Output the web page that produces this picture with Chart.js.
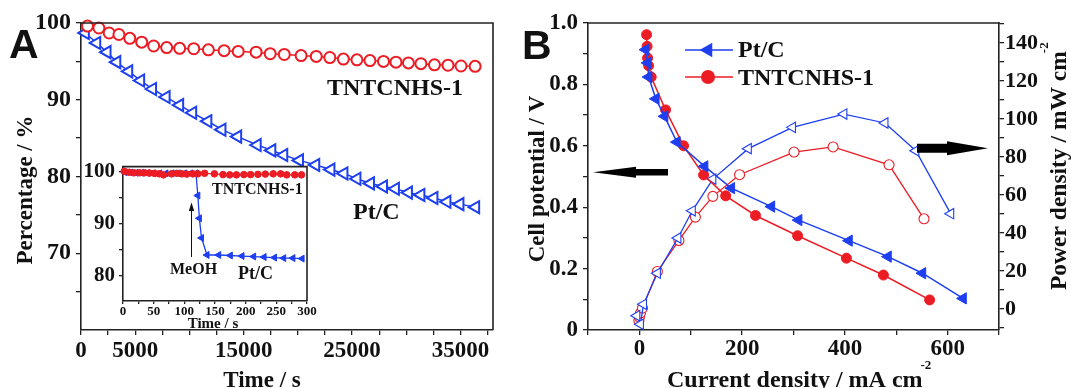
<!DOCTYPE html>
<html>
<head>
<meta charset="utf-8">
<title>Methanol tolerance and single cell polarization</title>
<script src="https://cdn.jsdelivr.net/npm/chart.js@4.4.1/dist/chart.umd.min.js"></script>
<style>
  html, body { margin: 0; padding: 0; background: #fff; }
  #fig { position: relative; width: 1071px; height: 388px; overflow: hidden; background: #fff; }
  #fig canvas { position: absolute; }
</style>
</head>
<body>
<div id="fig">
  <canvas id="chartA" width="515" height="388" style="left:0;top:0"></canvas>
  <canvas id="chartInset" width="262" height="185" style="left:60px;top:150px"></canvas>
  <canvas id="chartB" width="556" height="388" style="left:515px;top:0"></canvas>
</div>
<script>
Chart.defaults.font.family = '"Liberation Serif", "Times New Roman", serif';
Chart.defaults.animation = false;

const RED = '#ec1c24';
const BLUE = '#1d3fef';
const INK = '#111111';
const AXIS = '#222222';
const SERIF = '"Liberation Serif", "Times New Roman", serif';
const SANS = '"Liberation Sans", Arial, sans-serif';

// ---- Panel A: chronoamperometric retention (%) vs time (s)
const tntTimeS = [600, 1650, 2600, 3500, 4500, 5600, 6700, 7900, 9100, 10400, 11750, 13200, 14500, 16150, 17450,
  18750, 20300, 21700, 22950, 24200, 25450, 26650, 27900, 29050, 30200, 31350, 32600, 33850, 35050, 36350];
const tntRetention = [99.6, 99.35, 98.7, 98.5, 98.0, 97.5, 97.0, 96.8, 96.7, 96.65, 96.5, 96.4, 96.3, 96.2, 96.0,
  95.9, 95.75, 95.65, 95.5, 95.3, 95.2, 95.1, 95.0, 94.9, 94.8, 94.7, 94.55, 94.5, 94.4, 94.35];
const ptcTimeS = [400, 1450, 2400, 3300, 4400, 5500, 6600, 7850, 9100, 10300, 11700, 13000, 14450, 16250, 17600,
  18700, 20150, 21650, 23050, 24250, 25450, 26700, 27900, 29000, 30200, 31350, 32550, 33750, 34950, 36400];
const ptcRetention = [98.7, 97.4, 96.2, 94.9, 93.7, 92.5, 91.4, 90.35, 89.3, 88.3, 87.2, 86.1, 85.2, 84.1, 83.4,
  82.8, 82.1, 81.5, 80.9, 80.4, 79.7, 79.1, 78.7, 78.4, 77.9, 77.6, 77.2, 76.7, 76.4, 76.0];
const timeTicksA = [0, 2500, 5000, 7500, 10000, 12500, 15000, 17500, 20000, 22500, 25000, 27500, 30000, 32500, 35000, 37500];
const timeLabelsA = [0, 5000, 15000, 25000, 35000];
const pctTicksA = [65, 70, 75, 80, 85, 90, 95, 100];
const pctLabelsA = [70, 80, 90, 100];

// ---- Inset: methanol injection at ~120 s
const inTntTime = [2, 10, 18, 27, 35, 43, 51, 59, 66, 79, 88, 96, 104, 114, 122, 133, 149, 163, 174, 185, 197, 208,
  220, 232, 245, 257, 267, 280, 291];
const inTntPct = [100.1, 99.9, 99.8, 99.8, 99.8, 99.75, 99.7, 99.6, 99.4, 99.6, 99.7, 99.6, 99.55, 99.6, 99.6, 99.7,
  99.6, 99.45, 99.4, 99.4, 99.45, 99.45, 99.5, 99.55, 99.6, 99.6, 99.4, 99.4, 99.4];
const inPtcTime = [3, 12, 21, 30, 40, 50, 60, 70, 80, 90, 100, 110, 119, 122, 124.5, 128, 137, 156, 175, 194, 213,
  230, 247, 262, 277, 292];
const inPtcPct = [99.9, 99.85, 99.8, 99.8, 99.75, 99.7, 99.7, 99.7, 99.7, 99.7, 99.7, 99.7, 99.7, 95.4, 91.0, 87.2,
  83.9, 83.9, 83.8, 83.7, 83.6, 83.5, 83.4, 83.3, 83.3, 83.2];
const inTimeTicks = [0, 25, 50, 75, 100, 125, 150, 175, 200, 225, 250, 275, 300];
const inTimeLabels = [0, 50, 100, 150, 200, 250, 300];
const inPctTicks = [80, 85, 90, 95, 100];
const inPctLabels = [80, 90, 100];

// ---- Panel B: polarization (V) and power density (mW cm-2) vs current density (mA cm-2)
const ptcCurrent = [12, 16, 18, 32, 49, 73, 127, 179, 257, 310, 408, 484, 551, 630];
const ptcVoltage = [0.913, 0.870, 0.824, 0.753, 0.696, 0.612, 0.533, 0.462, 0.402, 0.358, 0.291, 0.239, 0.185, 0.103];
const tntCurrent = [14, 15, 16, 18, 23, 51, 86, 125, 168, 226, 308, 403, 475, 565];
const tntVoltage = [0.962, 0.924, 0.886, 0.861, 0.824, 0.717, 0.600, 0.505, 0.437, 0.373, 0.307, 0.234, 0.179, 0.098];
const ptcPowerCurrent = [-5, 2, 8, 35, 75, 103, 143, 212, 298, 398, 478, 538, 606];
const ptcPower = [-3.5, -8, 2.5, 18.9, 37.4, 51.7, 68.4, 84.4, 95.6, 102.6, 97.9, 83.3, 50.2];
const tntPowerCurrent = [-1, 0, 2, 6, 35, 77, 109, 143, 195, 301, 377, 486, 554];
const tntPower = [-6, -4.2, -2.1, 0.5, 19.8, 36.1, 48.4, 59.3, 70.7, 82.6, 85.3, 75.9, 47.5];
const currentTicks = [-100, 0, 100, 200, 300, 400, 500, 600, 700];
const currentLabels = [0, 200, 400, 600];
const voltTicks = [0, 0.1, 0.2, 0.3, 0.4, 0.5, 0.6, 0.7, 0.8, 0.9, 1.0];
const voltLabels = [0, 0.2, 0.4, 0.6, 0.8, 1.0];
const powerTicks = [-10, 0, 10, 20, 30, 40, 50, 60, 70, 80, 90, 100, 110, 120, 130, 140, 150];
const powerLabels = [0, 20, 40, 60, 80, 100, 120, 140];

function points(xs, ys) {
  return xs.map((x, i) => ({ x: x, y: ys[i] }));
}

// linear axis with a fixed box size and hand-picked ticks
function axis(o) {
  return {
    type: 'linear',
    position: o.position,
    min: o.min,
    max: o.max,
    afterBuildTicks: s => { s.ticks = o.ticks.map(v => ({ value: v })); },
    afterFit: s => {
      if (s.isHorizontal()) s.height = o.size;
      else s.width = o.size;
    },
    border: { display: true, color: AXIS, width: 1.6 },
    grid: { drawOnChartArea: false, drawTicks: true, tickLength: o.tickLength || 5, color: AXIS, lineWidth: 1.3 },
    ticks: {
      autoSkip: false, maxRotation: 0, minRotation: 0,
      padding: o.padding, color: INK,
      font: { family: SERIF, weight: 'bold', size: o.fontSize },
      callback: v => (o.labels.includes(v) ? (o.format ? o.format(v) : String(v)) : '')
    }
  };
}

function text(ctx, str, x, y, font, align, rotate) {
  ctx.save();
  ctx.font = font;
  ctx.fillStyle = INK;
  ctx.textAlign = align || 'left';
  ctx.textBaseline = 'alphabetic';
  ctx.translate(x, y);
  if (rotate) ctx.rotate(-Math.PI / 2);
  ctx.fillText(str, 0, 0);
  ctx.restore();
}

function textWithSup(ctx, main, sup, x, y, size, supSize, rotate) {
  ctx.save();
  ctx.translate(x, y);
  if (rotate) ctx.rotate(-Math.PI / 2);
  ctx.fillStyle = INK;
  ctx.textBaseline = 'alphabetic';
  ctx.font = 'bold ' + size + 'px ' + SERIF;
  const w = ctx.measureText(main).width;
  ctx.fillText(main, 0, 0);
  ctx.font = 'bold ' + supSize + 'px ' + SERIF;
  ctx.fillText(sup, w - 2, -size * 0.75);
  ctx.restore();
}

function polygon(ctx, pts) {
  ctx.beginPath();
  ctx.moveTo(pts[0][0], pts[0][1]);
  for (let i = 1; i < pts.length; i++) ctx.lineTo(pts[i][0], pts[i][1]);
  ctx.closePath();
  ctx.fill();
}

// top / right box lines around the plot area
function drawFrame(chart, sides) {
  const ctx = chart.ctx, a = chart.chartArea;
  ctx.save();
  ctx.strokeStyle = AXIS;
  ctx.lineWidth = 1.6;
  ctx.beginPath();
  if (sides.includes('top')) { ctx.moveTo(a.left - 0.8, a.top); ctx.lineTo(a.right + 0.8, a.top); }
  if (sides.includes('right')) { ctx.moveTo(a.right, a.top); ctx.lineTo(a.right, a.bottom); }
  ctx.stroke();
  ctx.restore();
}

const baseOptions = {
  responsive: false,
  animation: false,
  events: [],
  plugins: { legend: { display: false }, tooltip: { enabled: false } }
};

// ---------------- Panel A ----------------
new Chart(document.getElementById('chartA'), {
  type: 'scatter',
  data: {
    datasets: [
      {
        label: 'TNTCNHS-1', data: points(tntTimeS, tntRetention), showLine: true, clip: false,
        borderColor: RED, borderWidth: 1.5, pointStyle: 'circle', pointRadius: 5.5,
        pointBorderWidth: 2, pointBorderColor: RED, pointBackgroundColor: '#ffffff'
      },
      {
        label: 'Pt/C', data: points(ptcTimeS, ptcRetention), showLine: true, clip: false,
        borderColor: BLUE, borderWidth: 1.5, pointStyle: 'triangle', pointRotation: -90, pointRadius: 7,
        pointBorderWidth: 2, pointBorderColor: BLUE, pointBackgroundColor: '#ffffff'
      }
    ]
  },
  options: Object.assign({}, baseOptions, {
    layout: { padding: { top: 23, right: 22, left: 0, bottom: 0 } },
    scales: {
      x: axis({ position: 'bottom', min: 0, max: 38000, ticks: timeTicksA, labels: timeLabelsA,
        size: 58, padding: 2, fontSize: 23 }),
      y: axis({ position: 'left', min: 60, max: 100, ticks: pctTicksA, labels: pctLabelsA,
        size: 81, padding: 5, fontSize: 24 })
    }
  }),
  plugins: [{
    id: 'annotA',
    afterDraw(chart) {
      const ctx = chart.ctx;
      drawFrame(chart, ['top', 'right']);
      text(ctx, 'A', 9, 58, 'bold 41px ' + SANS);
      text(ctx, 'Percentage / %', 31.5, 190, 'bold 23px ' + SERIF, 'center', true);
      text(ctx, 'Time / s', 262, 387, 'bold 23px ' + SERIF, 'center');
      text(ctx, 'TNTCNHS-1', 327, 95, 'bold 24px ' + SERIF);
      text(ctx, 'Pt/C', 353, 219, 'bold 24px ' + SERIF);
    }
  }]
});

// ---------------- Inset (page offset 60,150) ----------------
new Chart(document.getElementById('chartInset'), {
  type: 'scatter',
  data: {
    datasets: [
      {
        label: 'TNTCNHS-1', data: points(inTntTime, inTntPct), showLine: true, clip: false,
        borderColor: RED, borderWidth: 1.2, pointStyle: 'circle', pointRadius: 3.3,
        pointBorderWidth: 1, pointBorderColor: RED, pointBackgroundColor: RED
      },
      {
        label: 'Pt/C', data: points(inPtcTime, inPtcPct), showLine: true, clip: false,
        borderColor: BLUE, borderWidth: 1.3, pointStyle: 'triangle', pointRotation: -90, pointRadius: 4,
        pointBorderWidth: 1, pointBorderColor: BLUE, pointBackgroundColor: BLUE
      }
    ]
  },
  options: Object.assign({}, baseOptions, {
    layout: { padding: { top: 13, right: 15, left: 0, bottom: 0 } },
    scales: {
      x: axis({ position: 'bottom', min: 0, max: 300, ticks: inTimeTicks, labels: inTimeLabels,
        size: 34, padding: 0, tickLength: 3, fontSize: 13 }),
      y: axis({ position: 'left', min: 75, max: 101, ticks: inPctTicks, labels: inPctLabels,
        size: 63, padding: 4, tickLength: 4, fontSize: 21 })
    }
  }),
  plugins: [{
    id: 'annotInset',
    beforeDraw(chart) {
      const a = chart.chartArea;
      chart.ctx.save();
      chart.ctx.fillStyle = '#ffffff';
      chart.ctx.fillRect(a.left, a.top, a.right - a.left, a.bottom - a.top);
      chart.ctx.restore();
    },
    afterDraw(chart) {
      const ctx = chart.ctx;
      drawFrame(chart, ['top', 'right']);
      text(ctx, 'TNTCNHS-1', 212 - 60, 194 - 150, 'bold 16px ' + SERIF);
      text(ctx, 'MeOH', 170 - 60, 274 - 150, 'bold 16px ' + SERIF);
      text(ctx, 'Pt/C', 238 - 60, 279 - 150, 'bold 18px ' + SERIF);
      text(ctx, 'Time / s', 213 - 60, 328 - 150, 'bold 15px ' + SERIF, 'center');
      // MeOH injection arrow
      ctx.save();
      ctx.strokeStyle = INK;
      ctx.fillStyle = INK;
      ctx.lineWidth = 1;
      ctx.beginPath();
      ctx.moveTo(191.5 - 60, 257 - 150);
      ctx.lineTo(191.5 - 60, 209 - 150);
      ctx.stroke();
      polygon(ctx, [[191.5 - 60, 202.5 - 150], [188.8 - 60, 211 - 150], [194.2 - 60, 211 - 150]]);
      ctx.restore();
    }
  }]
});

// ---------------- Panel B (page offset 515,0) ----------------
const OX = 515;
new Chart(document.getElementById('chartB'), {
  type: 'scatter',
  data: {
    datasets: [
      {
        label: 'Pt/C', data: points(ptcCurrent, ptcVoltage), yAxisID: 'y', showLine: true, clip: false,
        borderColor: BLUE, borderWidth: 1.5, pointStyle: 'triangle', pointRotation: -90, pointRadius: 6.5,
        pointBorderWidth: 1, pointBorderColor: BLUE, pointBackgroundColor: BLUE
      },
      {
        label: 'TNTCNHS-1', data: points(tntCurrent, tntVoltage), yAxisID: 'y', showLine: true, clip: false,
        borderColor: RED, borderWidth: 1.5, pointStyle: 'circle', pointRadius: 5,
        pointBorderWidth: 1, pointBorderColor: RED, pointBackgroundColor: RED
      },
      {
        label: 'Pt/C power', data: points(ptcPowerCurrent, ptcPower), yAxisID: 'y1', showLine: true, clip: false,
        borderColor: BLUE, borderWidth: 1.3, pointStyle: 'triangle', pointRotation: -90, pointRadius: 6,
        pointBorderWidth: 1.1, pointBorderColor: BLUE, pointBackgroundColor: '#ffffff'
      },
      {
        label: 'TNTCNHS-1 power', data: points(tntPowerCurrent, tntPower), yAxisID: 'y1', showLine: true, clip: false,
        borderColor: RED, borderWidth: 1.3, pointStyle: 'circle', pointRadius: 5,
        pointBorderWidth: 1.1, pointBorderColor: RED, pointBackgroundColor: '#ffffff'
      }
    ]
  },
  options: Object.assign({}, baseOptions, {
    layout: { padding: { top: 23, right: 0, left: 0, bottom: 0 } },
    scales: {
      x: axis({ position: 'bottom', min: -100, max: 700, ticks: currentTicks, labels: currentLabels,
        size: 58, padding: 0, fontSize: 23 }),
      y: axis({ position: 'left', min: 0, max: 1.0, ticks: voltTicks, labels: voltLabels,
        size: 73, padding: 5, fontSize: 23, format: v => (v === 0 ? '0' : v.toFixed(1)) }),
      y1: axis({ position: 'right', min: -11, max: 150.5, ticks: powerTicks, labels: powerLabels,
        size: 72, padding: 1, fontSize: 22 })
    }
  }),
  plugins: [{
    id: 'annotB',
    afterDraw(chart) {
      const ctx = chart.ctx;
      drawFrame(chart, ['top']);
      text(ctx, 'B', 522 - OX, 59, 'bold 41px ' + SANS);
      text(ctx, 'Cell potential / V', 544 - OX, 179, 'bold 23px ' + SERIF, 'center', true);
      textWithSup(ctx, 'Current density / mA cm', '-2', 667 - OX, 387, 24, 13, false);
      textWithSup(ctx, 'Power density / mW cm', '-2', 1066 - OX, 290, 23.5, 13, true);

      // legend
      ctx.save();
      ctx.lineWidth = 1.5;
      ctx.strokeStyle = BLUE;
      ctx.beginPath(); ctx.moveTo(685 - OX, 50); ctx.lineTo(733 - OX, 50); ctx.stroke();
      ctx.fillStyle = BLUE;
      const r = 8.5, lx = 708 - OX;
      polygon(ctx, [[lx - r, 50], [lx + r / 2, 50 - r * 0.866], [lx + r / 2, 50 + r * 0.866]]);
      ctx.strokeStyle = RED;
      ctx.beginPath(); ctx.moveTo(685 - OX, 77); ctx.lineTo(733 - OX, 77); ctx.stroke();
      ctx.fillStyle = RED;
      ctx.beginPath(); ctx.arc(lx, 77, 7, 0, Math.PI * 2); ctx.fill();
      ctx.restore();
      text(ctx, 'Pt/C', 738 - OX, 57, 'bold 24px ' + SERIF);
      text(ctx, 'TNTCNHS-1', 738 - OX, 85, 'bold 24px ' + SERIF);

      // axis arrows
      ctx.save();
      ctx.fillStyle = '#000000';
      polygon(ctx, [[593 - OX, 172.3], [636 - OX, 166.8], [636 - OX, 169], [668 - OX, 169],
        [668 - OX, 175.6], [636 - OX, 175.6], [636 - OX, 177.8]]);
      polygon(ctx, [[988 - OX, 148.3], [947 - OX, 141.3], [947 - OX, 143.8], [917 - OX, 143.8],
        [917 - OX, 152.8], [947 - OX, 152.8], [947 - OX, 155.3]]);
      ctx.restore();
    }
  }]
});
</script>
</body>
</html>
